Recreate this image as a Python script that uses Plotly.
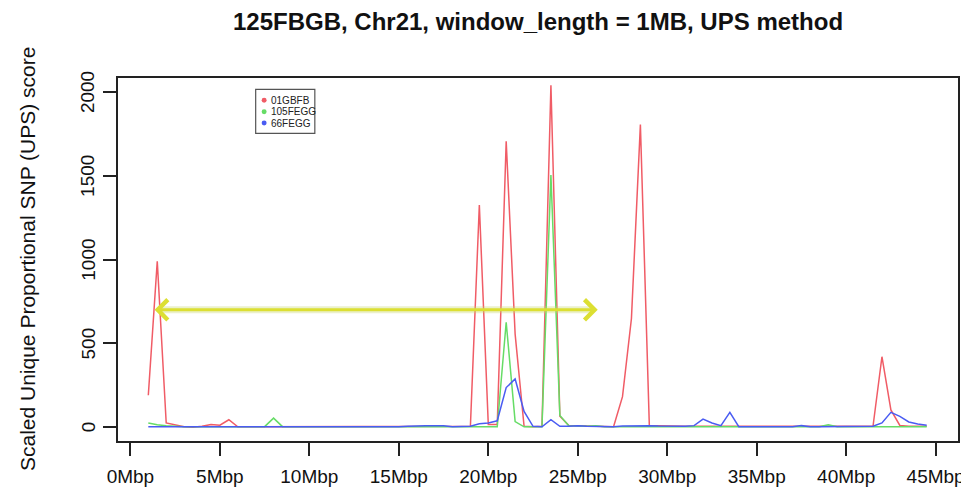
import plotly.graph_objects as go

# Window start positions (Mbp)
positions = [1.0, 1.5, 2.0, 2.5, 3.0, 3.5, 4.0, 4.5, 5.0, 5.5, 6.0, 6.5, 7.0, 7.5, 8.0, 8.5,
             9.0, 9.5, 10.0, 10.5, 11.0, 11.5, 12.0, 12.5, 13.0, 13.5, 14.0, 14.5, 15.0, 15.5,
             16.0, 16.5, 17.0, 17.5, 18.0, 18.5, 19.0, 19.5, 20.0, 20.5, 21.0, 21.5, 22.0, 22.5,
             23.0, 23.5, 24.0, 24.5, 25.0, 25.5, 26.0, 26.5, 27.0, 27.5, 28.0, 28.5, 29.0, 29.5,
             30.0, 30.5, 31.0, 31.5, 32.0, 32.5, 33.0, 33.5, 34.0, 34.5, 35.0, 35.5, 36.0, 36.5,
             37.0, 37.5, 38.0, 38.5, 39.0, 39.5, 40.0, 40.5, 41.0, 41.5, 42.0, 42.5, 43.0, 43.5,
             44.0, 44.5]

ups_01GBFB = [190, 990, 25, 12, 2, 0, 5, 15, 12, 44, 2, 2, 2, 2, 2, 2,
              2, 2, 2, 2, 2, 2, 2, 2, 3, 3, 4, 4, 5, 5,
              5, 5, 5, 5, 3, 3, 5, 1325, 15, 15, 1705, 555, 5, 2,
              5, 2040, 65, 10, 8, 6, 8, 5, 3, 182, 648, 1805, 10, 8,
              6, 5, 5, 5, 5, 5, 5, 5, 3, 3, 3, 3, 3, 3,
              3, 5, 3, 3, 5, 3, 3, 3, 3, 5, 420, 103, 10, 5,
              5, 5]

ups_105FEGG = [25, 14, 9, 4, 2, 2, 2, 3, 2, 2, 2, 2, 2, 3, 54, 3,
               2, 2, 2, 2, 2, 2, 2, 2, 2, 2, 2, 2, 2, 2,
               2, 2, 2, 2, 2, 2, 2, 2, 2, 2, 626, 33, 2, 2,
               3, 1504, 70, 8, 5, 6, 8, 3, 3, 3, 3, 3, 3, 3,
               3, 3, 3, 3, 3, 3, 3, 3, 3, 3, 3, 3, 3, 3,
               3, 3, 3, 3, 14, 3, 3, 3, 3, 3, 3, 3, 3, 3,
               3, 3]

ups_66FEGG = [3, 3, 3, 2, 0, 0, 2, 3, 3, 3, 2, 2, 2, 2, 2, 2,
              2, 2, 2, 2, 2, 2, 2, 2, 2, 2, 2, 2, 2, 5,
              9, 9, 9, 8, 2, 3, 5, 20, 25, 38, 236, 287, 94, 5,
              2, 44, 5, 5, 9, 5, 3, 3, 3, 7, 9, 9, 9, 7,
              5, 5, 5, 9, 48, 25, 9, 88, 3, 2, 2, 2, 2, 2,
              2, 9, 3, 3, 3, 3, 3, 3, 3, 5, 25, 88, 64, 31,
              19, 11]

series_names = ["01GBFB", "105FEGG", "66FEGG"]
series_colors = ["#f05c66", "#66dc66", "#4a5cf2"]

x_tickvals = [0, 5, 10, 15, 20, 25, 30, 35, 40, 45]
x_ticktext = ["0Mbp", "5Mbp", "10Mbp", "15Mbp", "20Mbp", "25Mbp", "30Mbp", "35Mbp", "40Mbp", "45Mbp"]
y_tickvals = [0, 500, 1000, 1500, 2000]
y_ticktext = ["0", "500", "1000", "1500", "2000"]

arrow_y = 700
arrow_left = 1.35
arrow_right = 26.2

FONT = "Liberation Sans, Arial, Helvetica, sans-serif"

fig = go.Figure()
for name, vals, col in zip(series_names, [ups_01GBFB, ups_105FEGG, ups_66FEGG], series_colors):
    fig.add_trace(go.Scatter(x=positions, y=vals, mode="lines", name=name,
                             line=dict(color=col, width=1.5), showlegend=False))

# arrow: soft halo line + main double-headed arrow
fig.add_annotation(x=arrow_left + 0.3, y=arrow_y, ax=arrow_right - 0.3, ay=arrow_y, axref="x", ayref="y",
                   xref="x", yref="y", text="", showarrow=True, arrowhead=0,
                   arrowwidth=7, arrowcolor="rgba(200,215,110,0.35)")
fig.add_annotation(x=arrow_left, y=arrow_y, ax=arrow_right, ay=arrow_y, axref="x", ayref="y",
                   xref="x", yref="y", text="", showarrow=True, arrowside="end+start",
                   arrowhead=4, startarrowhead=4, arrowsize=1.3, startarrowsize=1.3,
                   arrowwidth=3, arrowcolor="#dcdf32")

# pixel -> paper helpers
PW, PH, L, B = 845.0, 366.5, 110.0, 436.5
def px(xp):
    return (xp - L) / PW
def py(yp):
    return (B - yp) / PH

# manual legend
fig.add_shape(type="rect", xref="paper", yref="paper", x0=px(248.5), x1=px(308), y0=py(126), y1=py(81.5),
              line=dict(color="#555555", width=1.2), fillcolor="rgba(255,255,255,0)")
row_y = [92.5, 104, 115.5]
for name, col, ry in zip(series_names, series_colors, row_y):
    fig.add_shape(type="circle", xref="paper", yref="paper", x0=px(254.5), x1=px(259.5),
                  y0=py(ry + 2.5), y1=py(ry - 2.5), line=dict(width=0), fillcolor=col)
    fig.add_annotation(x=px(262.5), y=py(ry), xref="paper", yref="paper", text=name, showarrow=False,
                       xanchor="left", yanchor="middle", borderpad=0,
                       font=dict(family=FONT, size=10, color="#222222"))

# rotated y tick labels (R style, parallel to the axis)
for v, t in zip(y_tickvals, y_ticktext):
    fig.add_annotation(x=px(80), y=v, xref="paper", yref="y", text=t, textangle=-90, showarrow=False,
                       xanchor="center", yanchor="middle", borderpad=0,
                       font=dict(family=FONT, size=19, color="#111111"))

# y axis title as rotated annotation
fig.add_annotation(x=px(19), y=0.5, xref="paper", yref="paper", text="Scaled Unique Proportional SNP (UPS) score",
                   textangle=-90, showarrow=False, xanchor="center", yanchor="middle",
                   font=dict(family=FONT, size=21, color="#111111"))

fig.update_layout(
    width=969, height=491,
    margin=dict(l=110, r=14, t=70, b=55),
    paper_bgcolor="white", plot_bgcolor="white",
    title=dict(text="<b>125FBGB, Chr21, window_length = 1MB, UPS method</b>", x=0.5, xref="paper",
               y=1 - 14 / 491, yref="container", xanchor="center", yanchor="middle",
               font=dict(family=FONT, size=24, color="#111111")),
    font=dict(family=FONT, color="#111111"),
    showlegend=False,
)
fig.update_xaxes(range=[-0.694, 46.25], tickvals=x_tickvals, ticktext=x_ticktext, showgrid=False,
                 zeroline=False, showline=True, mirror=True, linecolor="#222222", linewidth=1.5,
                 ticks="outside", ticklen=13, tickwidth=1.5, tickcolor="#222222",
                 ticklabelstandoff=4,
                 tickfont=dict(family=FONT, size=19, color="#111111"))
fig.update_yaxes(range=[-82.7, 2083], tickvals=y_tickvals, showticklabels=False, showgrid=False,
                 zeroline=False, showline=True, mirror=True, linecolor="#222222", linewidth=1.5,
                 ticks="outside", ticklen=13, tickwidth=1.5, tickcolor="#222222")

fig.write_html("out.html")
